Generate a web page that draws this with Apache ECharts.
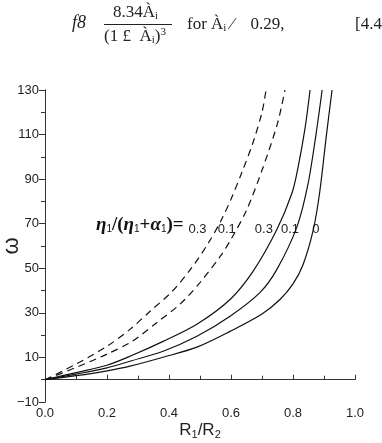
<!DOCTYPE html>
<html>
<head>
<meta charset="utf-8">
<script src="https://cdn.jsdelivr.net/npm/echarts@6/dist/echarts.min.js"></script>
<style>
  html, body { margin: 0; padding: 0; background: #fff; }
  #chart { width: 382px; height: 443px; }
</style>
</head>
<body>
<div id="chart"></div>
<script>
// curves, [R1/R2, omega]
var dashed03 = [[0,0],[0.1,7],[0.2,15],[0.274,22.6],[0.339,30.7],[0.41,39.6],[0.474,50.4],[0.53,62],[0.57,72],[0.6,81],[0.635,93],[0.67,106],[0.7,120],[0.713,130]];
var dashed01 = [[0,0],[0.1,5.5],[0.2,11.5],[0.281,17.2],[0.361,25.7],[0.435,33.8],[0.5,43.6],[0.565,55.3],[0.6,63],[0.65,76],[0.7,94],[0.75,115],[0.774,130]];
var solid03 = [[0,0],[0.1,3.2],[0.2,6.5],[0.274,10.5],[0.381,17.2],[0.49,24.9],[0.597,36],[0.671,48.6],[0.748,67.4],[0.797,83.9],[0.816,95.1],[0.839,113],[0.855,130]];
var solid01 = [[0,0],[0.1,2.5],[0.2,5.3],[0.274,8.3],[0.381,12.8],[0.49,19.5],[0.597,28.5],[0.694,39.2],[0.748,49.5],[0.813,68.7],[0.848,87.5],[0.874,109.9],[0.894,130]];
var solid00 = [[0,0],[0.1,1.8],[0.2,4],[0.274,6.1],[0.381,10.1],[0.49,14.6],[0.597,21.7],[0.7,29.5],[0.758,36],[0.8,43],[0.832,51.5],[0.865,67],[0.886,84],[0.908,110],[0.926,130]];

// curve labels (text, x, y in data units)
var curveLabels = [['0.3',0.463,67.5],['0.1',0.557,67.5],['0.3',0.677,67.5],['0.1',0.761,67.5],['0',0.862,67.5]];

var myChart = echarts.init(document.getElementById('chart'));

var axisColor = '#333';
var sans = 'Liberation Sans';
var serif = 'Liberation Serif';

function line(data, dashed) {
    return {
        type: 'line',
        data: data,
        smooth: 0.3,
        symbol: 'none',
        clip: true,
        lineStyle: {
            color: '#111',
            width: 1.2,
            type: dashed ? [7, 5] : 'solid'
        }
    };
}

var option = {
    animation: false,
    grid: { left: 45, right: 27, top: 90, bottom: 41, outerBoundsMode: 'none', containLabel: false },
    xAxis: [{
        type: 'value',
        min: 0, max: 1, interval: 0.2,
        name: '{m|R}{s|1}{m|/R}{s|2}',
        nameLocation: 'middle',
        nameGap: 19,
        nameMoveOverlap: false,
        nameTextStyle: {
            rich: {
                m: { fontFamily: sans, fontSize: 17, color: '#222' },
                s: { fontFamily: sans, fontSize: 11, color: '#222', verticalAlign: 'bottom', padding: [8, 0, 0, 0] }
            }
        },
        axisLine: { lineStyle: { color: axisColor, width: 1 } },
        axisTick: { inside: true, length: 5, lineStyle: { color: axisColor } },
        minorTick: { show: true, splitNumber: 2, length: 4, lineStyle: { color: axisColor } },
        axisLabel: {
            fontFamily: sans, fontSize: 13, color: '#222', margin: 5,
            formatter: function (v) { return v.toFixed(1); }
        },
        splitLine: { show: false }
    }, {
        type: 'value',
        position: 'top',
        min: 0, max: 1,
        axisLine: { show: true, lineStyle: { color: axisColor, width: 1 } },
        axisTick: { show: false },
        axisLabel: { show: false },
        splitLine: { show: false }
    }],
    yAxis: [{
        type: 'value',
        min: -10, max: 130, interval: 20,
        name: 'ω',
        nameLocation: 'middle',
        nameGap: 22,
        nameMoveOverlap: false,
        nameTextStyle: { fontFamily: sans, fontSize: 22, color: '#222' },
        axisLine: { show: true, lineStyle: { color: axisColor, width: 1 } },
        axisTick: { inside: false, length: 6, lineStyle: { color: axisColor } },
        minorTick: { show: true, splitNumber: 2, length: 4, lineStyle: { color: axisColor } },
        axisLabel: {
            fontFamily: sans, fontSize: 13, color: '#222', margin: 6,
            formatter: function (v) { return v < 0 ? '\u2212' + Math.abs(v) : String(v); }
        },
        splitLine: { show: false }
    }, {
        type: 'value',
        position: 'right',
        min: -10, max: 130, interval: 20,
        axisLine: { show: true, lineStyle: { color: axisColor, width: 1 } },
        axisTick: { inside: true, length: 5, lineStyle: { color: axisColor } },
        axisLabel: { show: false },
        splitLine: { show: false }
    }],
    series: [
        line(dashed03, true),
        line(dashed01, true),
        line(solid03, false),
        line(solid01, false),
        line(solid00, false)
    ]
};

myChart.setOption(option);

// text above the figure and the curve labels
var eqStyle = { fontFamily: serif, fontSize: 17, fill: '#222' };
var graphics = [
    { type: 'text', left: 72, top: 14, style: { text: 'f8', font: 'italic 18px ' + serif, fill: '#222' } },
    { type: 'text', left: 113, top: 4, style: {
        text: '{m|8.34À}{s|i}',
        rich: { m: eqStyle, s: { fontFamily: serif, fontSize: 11, fill: '#222', padding: [7, 0, 0, 0] } }
    } },
    { type: 'line', shape: { x1: 104, y1: 24.5, x2: 172, y2: 24.5 }, style: { stroke: '#222', lineWidth: 1 } },
    { type: 'text', left: 104, top: 27, style: {
        text: '{m|(1 £  À}{s|i}{m|)}{p|3}',
        rich: {
            m: eqStyle,
            s: { fontFamily: serif, fontSize: 11, fill: '#222', padding: [7, 0, 0, 0] },
            p: { fontFamily: serif, fontSize: 11, fill: '#222', padding: [0, 0, 8, 0] }
        }
    } },
    { type: 'text', left: 187, top: 16, style: {
        text: '{m|for À}{s|i}{m| ⁄ \u2002 0.29,}',
        rich: { m: eqStyle, s: { fontFamily: serif, fontSize: 11, fill: '#222', padding: [7, 0, 0, 0] } }
    } },
    { type: 'text', left: 355, top: 16, style: { text: '[4.4I', fontFamily: serif, fontSize: 17, fill: '#222' } },
    { type: 'text', left: 96, top: 216, style: {
        text: '{g|η}{s|1}{m|/(}{g|η}{s|1}{m|+}{g|α}{s|1}{m|)=}',
        rich: {
            g: { fontFamily: serif, fontSize: 19, fontStyle: 'italic', fontWeight: 'bold', fill: '#111' },
            m: { fontFamily: serif, fontSize: 19, fontWeight: 'bold', fill: '#111' },
            s: { fontFamily: sans, fontSize: 10, fill: '#111', padding: [8, 0, 0, 0] }
        }
    } }
];

curveLabels.forEach(function (l) {
    var p = myChart.convertToPixel({ gridIndex: 0 }, [l[1], l[2]]);
    graphics.push({
        type: 'text', x: p[0], y: p[1],
        style: { text: l[0], fontFamily: sans, fontSize: 13, fill: '#222', align: 'left', verticalAlign: 'middle' }
    });
});

myChart.setOption({ graphic: graphics });
</script>
</body>
</html>
